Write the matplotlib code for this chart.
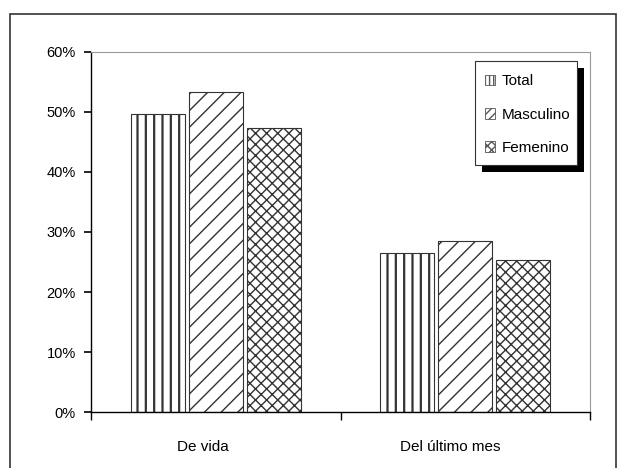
import matplotlib
matplotlib.use("Agg")
import matplotlib.pyplot as plt
import numpy as np
from matplotlib.patches import Rectangle, Patch
from matplotlib.ticker import FuncFormatter

categories = ["De vida", "Del último mes"]
series_names = ["Total", "Masculino", "Femenino"]
total = [49.7, 26.5]
masculino = [53.3, 28.5]
femenino = [47.4, 25.4]
yticks = [0, 10, 20, 30, 40, 50, 60]

plt.rcParams['font.family'] = ['Liberation Sans', 'DejaVu Sans']

W, H = 624, 468
fig = plt.figure(figsize=(W/100, H/100), dpi=100)
fig.patch.set_facecolor('white')

# outer frame
fig.add_artist(Rectangle((10/W, -0.05), (616-10)/W, 1.05 - 14/H, transform=fig.transFigure,
                         fill=False, edgecolor='#333333', linewidth=1.2))

ax = fig.add_axes([91/W, 1 - 412/H, (590-91)/W, (412-52)/H])
x = np.arange(len(categories))
bw = 0.216
gap = 0.017
hatches = ['||', '//', 'xxx']
hlw = [1.6, 1.0, 1.0]
data = [total, masculino, femenino]
for i, (vals, h) in enumerate(zip(data, hatches)):
    with plt.rc_context({'hatch.linewidth': hlw[i]}):
        ax.bar(x + (i - 1) * (bw + gap), vals, width=bw, facecolor='white',
               edgecolor='#333333', hatch=h, linewidth=0.8, zorder=2)

ax.set_xlim(-0.5, 1.5)
ax.set_ylim(0, 60)
ax.set_yticks(yticks)
ax.yaxis.set_major_formatter(FuncFormatter(lambda v, p: f"{int(v)}%"))
ax.set_xticks([-0.5, 0.5, 1.5])
ax.set_xticklabels([])
ax.tick_params(axis='x', which='major', length=6, width=1, direction='out', color='black')
ax.tick_params(axis='y', length=5, width=1.2, direction='out', labelsize=10.5, pad=6)
label_x = [-0.05, -0.06]
for xi, cat, off in zip(x, categories, label_x):
    ax.text(xi + off, -5.8, cat, ha='center', va='center', fontsize=11)
for s in ['top', 'right']:
    ax.spines[s].set_color('#999999')
    ax.spines[s].set_linewidth(0.8)
ax.spines['left'].set_linewidth(1.0)
ax.spines['bottom'].set_linewidth(1.0)

# legend box with drop shadow (pixel coords of the box)
bx0, bx1, by0, by1 = 475, 577, 61, 165
fig.add_artist(Rectangle(((bx0 + 7) / W, 1 - (by1 + 7) / H), (bx1 - bx0) / W, (by1 - by0) / H,
                         transform=fig.transFigure, facecolor='black', edgecolor='none', zorder=5))
fig.add_artist(Rectangle((bx0 / W, 1 - by1 / H), (bx1 - bx0) / W, (by1 - by0) / H,
                         transform=fig.transFigure, facecolor='white', edgecolor='#333333',
                         linewidth=0.8, zorder=6))

handles = []
for h, lw in zip(['||||', '////', 'xxxx'], hlw):
    with plt.rc_context({'hatch.linewidth': lw * 0.6}):
        handles.append(Patch(facecolor='white', edgecolor='#555555', hatch=h, linewidth=0.6))
leg = fig.legend(handles, series_names, loc='center',
                 bbox_to_anchor=((bx0 + bx1) / 2 / W + 0.002, 1 - ((by0 + by1) / 2 + 1.5) / H),
                 bbox_transform=fig.transFigure, frameon=False,
                 fontsize=11, handlelength=0.7, handleheight=0.7, handletextpad=0.4,
                 labelspacing=1.25, borderpad=0.0, borderaxespad=0)
leg.set_zorder(7)

fig.savefig("out.png", dpi=100, facecolor='white')
